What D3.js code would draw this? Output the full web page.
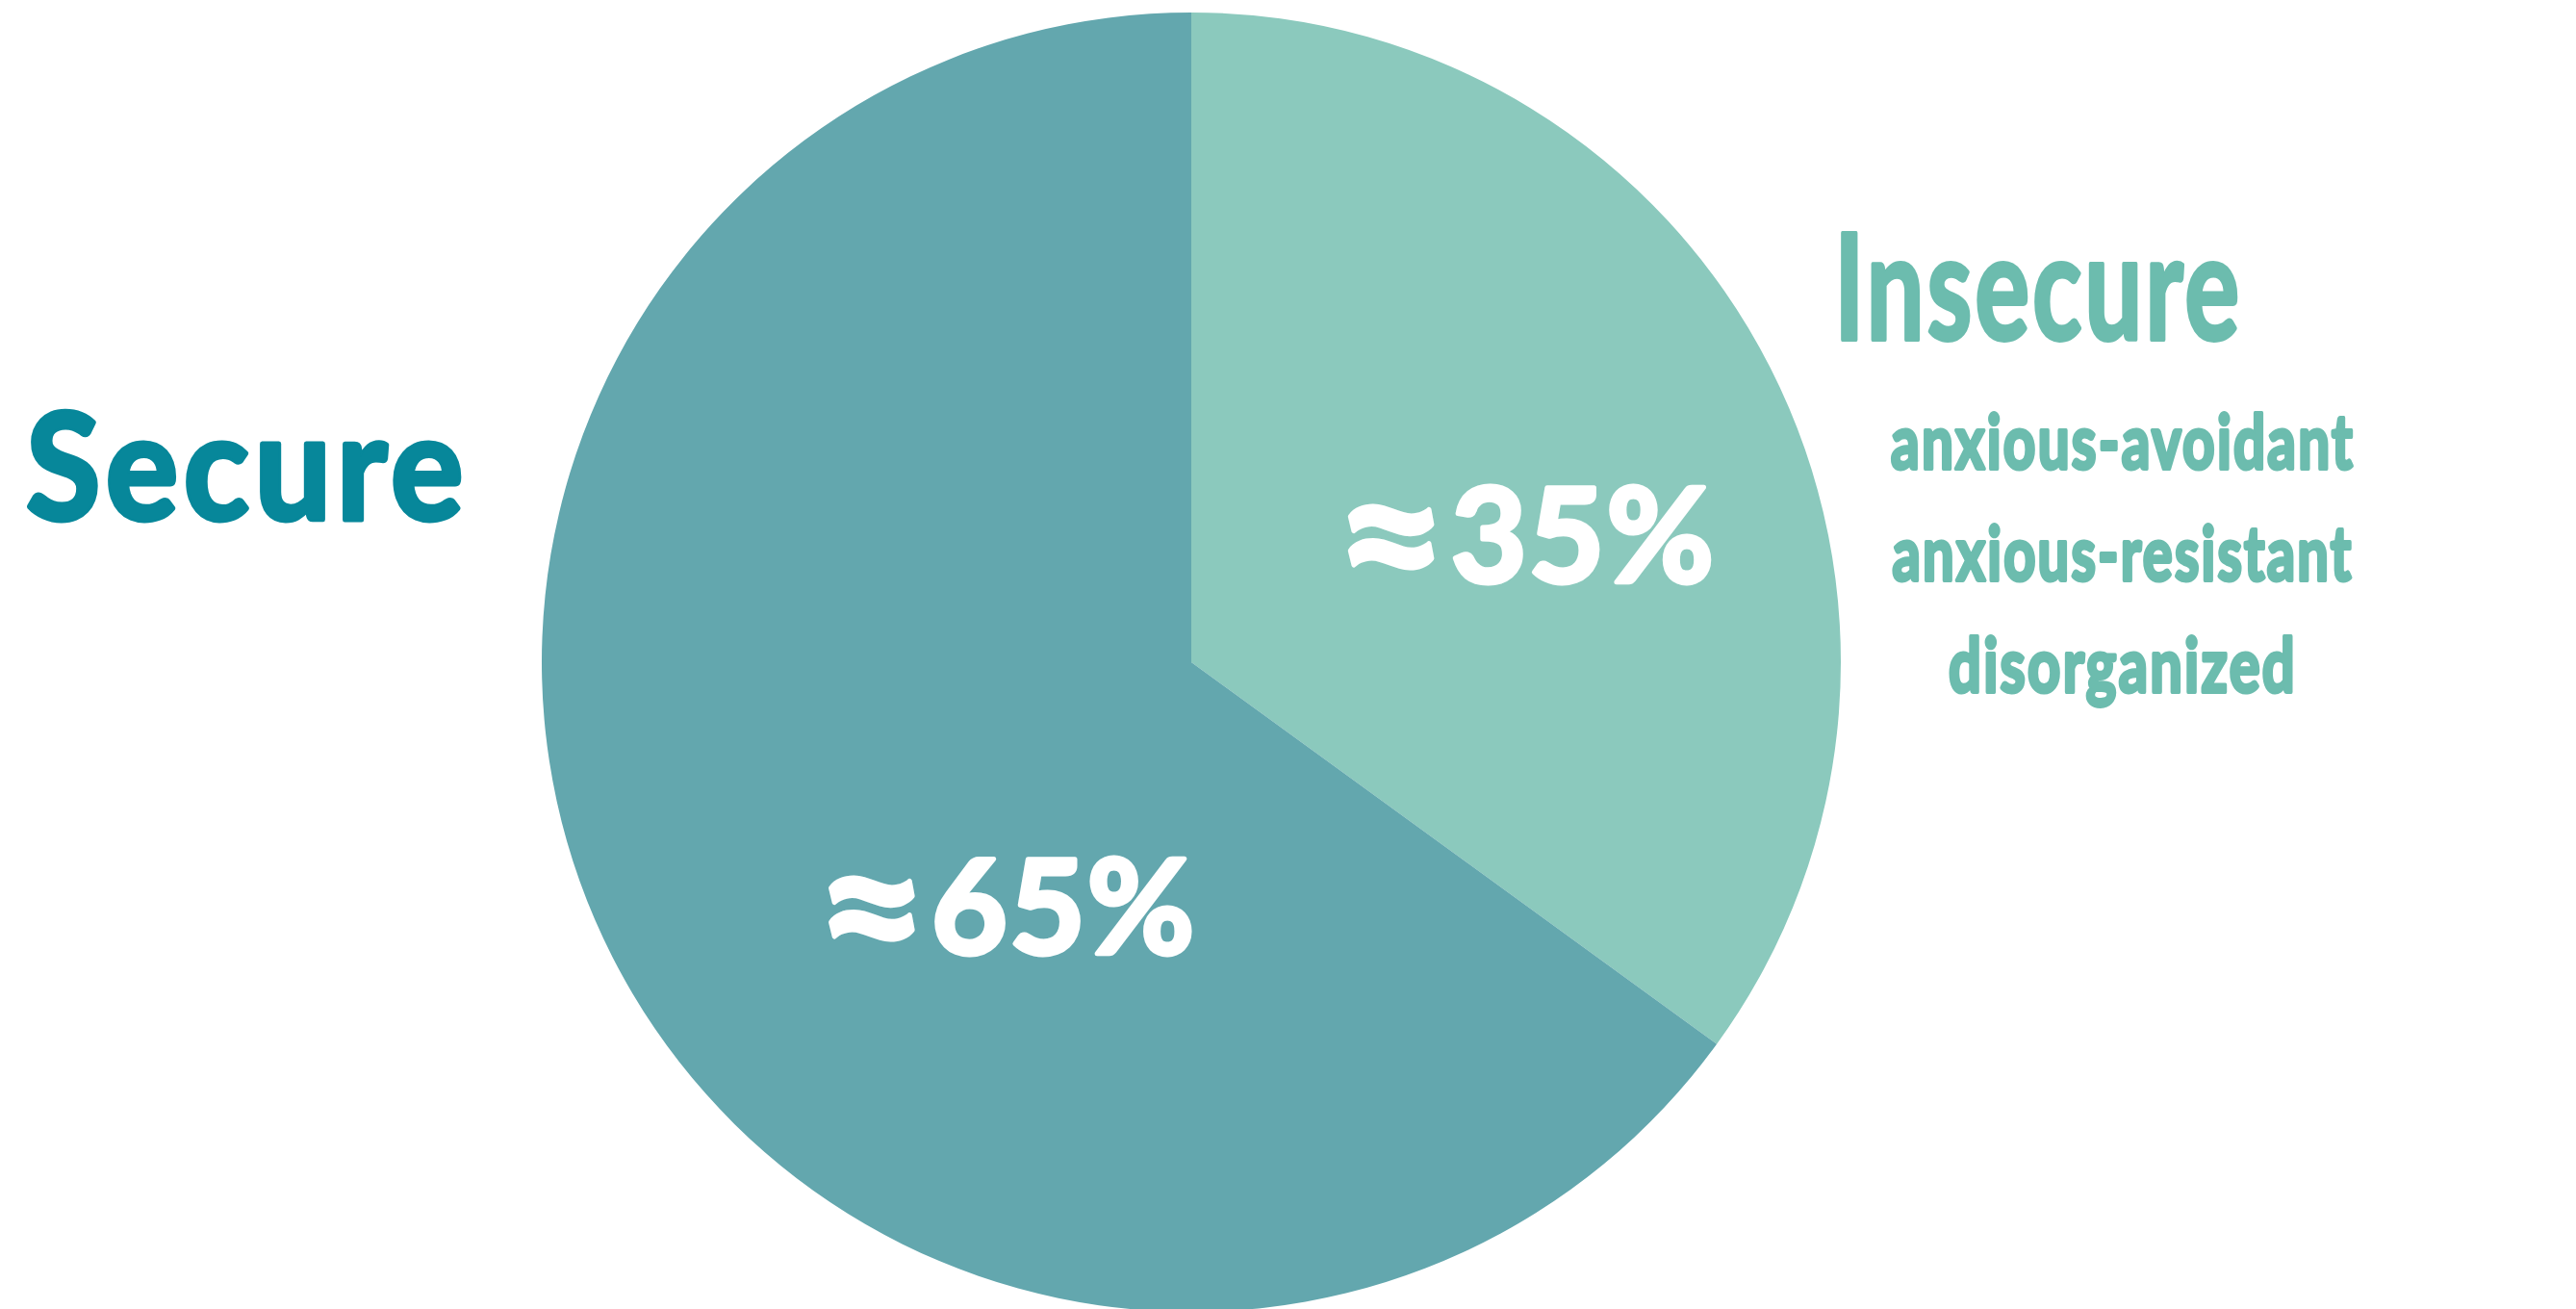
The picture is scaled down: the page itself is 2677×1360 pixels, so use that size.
<!DOCTYPE html>
<meta charset="utf-8">
<style>
body { margin: 0; background: #fff; }
text { font-family: Lato, "Open Sans", sans-serif; font-weight: 700; paint-order: stroke; stroke-linejoin: round; }
</style>
<svg width="2677" height="1360"></svg>
<script src="https://d3js.org/d3.v7.min.js"></script>
<script>
// data
var groups = ["Insecure", "Secure"];
var shares = [35, 65];
var shareLabels = ["35%", "65%"];
var insecureTypes = ["anxious-avoidant", "anxious-resistant", "disorganized"];

var svg = d3.select("svg"),
    cx = 1238, cy = 688, radius = 675;

var fill = d3.scaleOrdinal().domain(groups).range(["#8bc9bd", "#63a7ae"]);
var textColor = d3.scaleOrdinal().domain(groups).range(["#6cbcae", "#07879a"]);

var pie = d3.pie().sort(null).value(function(d) { return d.value; });
var arc = d3.arc().innerRadius(0).outerRadius(radius);

var rows = groups.map(function(g, i) { return {name: g, value: shares[i], label: shareLabels[i]}; });

var g = svg.append("g").attr("transform", "translate(" + cx + "," + cy + ")");

var slices = g.selectAll(".slice")
  .data(pie(rows))
  .enter().append("g")
    .attr("class", "slice");

slices.append("path")
    .attr("d", arc)
    .attr("fill", function(d) { return fill(d.data.name); });

// percentage labels: placed along each slice, pulled toward the centre of the picture
var labelPlace = {Insecure: {r: 372, shift: 0.105}, Secure: {r: 318, shift: -0.45}};
var pct = slices.append("text")
    .attr("transform", function(d) {
      var p = labelPlace[d.data.name],
          a = (d.startAngle + d.endAngle) / 2 + p.shift;
      return "translate(" + (p.r * Math.sin(a)) + "," + (-p.r * Math.cos(a)) + ")";
    })
    .attr("text-anchor", "middle")
    .attr("fill", "#fff")
    .attr("stroke", "#fff")
    .attr("stroke-width", 5)
    .style("font-size", "136px");
pct.append("tspan")
    .style("font-size", "200px")
    .attr("dy", 70)
    .text("\u2248");
pct.append("tspan")
    .attr("dx", 4)
    .attr("dy", -20)
    .style("letter-spacing", "2px")
    .text(function(d) { return d.data.label; });

// group titles
svg.append("text")
    .attr("x", 27).attr("y", 540)
    .attr("fill", textColor("Secure"))
    .attr("stroke", textColor("Secure"))
    .attr("stroke-width", 5)
    .style("font-size", "153px")
    .style("letter-spacing", "6px")
    .attr("textLength", 460)
    .attr("lengthAdjust", "spacingAndGlyphs")
    .text("Secure");

svg.append("text")
    .attr("x", 1906).attr("y", 353)
    .attr("fill", textColor("Insecure"))
    .attr("stroke", textColor("Insecure"))
    .attr("stroke-width", 4)
    .style("font-size", "153px")
    .style("letter-spacing", "4px")
    .attr("textLength", 424)
    .attr("lengthAdjust", "spacingAndGlyphs")
    .text("Insecure");

var typeWidth = d3.scaleOrdinal().domain(insecureTypes).range([482, 479, 362]);
svg.selectAll(".type")
  .data(insecureTypes)
  .enter().append("text")
    .attr("class", "type")
    .attr("x", 2206)
    .attr("y", function(d, i) { return 487 + i * 116; })
    .attr("text-anchor", "middle")
    .attr("fill", textColor("Insecure"))
    .attr("stroke", textColor("Insecure"))
    .attr("stroke-width", 4)
    .style("font-size", "78px")
    .style("letter-spacing", "3px")
    .attr("textLength", function(d) { return typeWidth(d); })
    .attr("lengthAdjust", "spacingAndGlyphs")
    .text(function(d) { return d; });
</script>
